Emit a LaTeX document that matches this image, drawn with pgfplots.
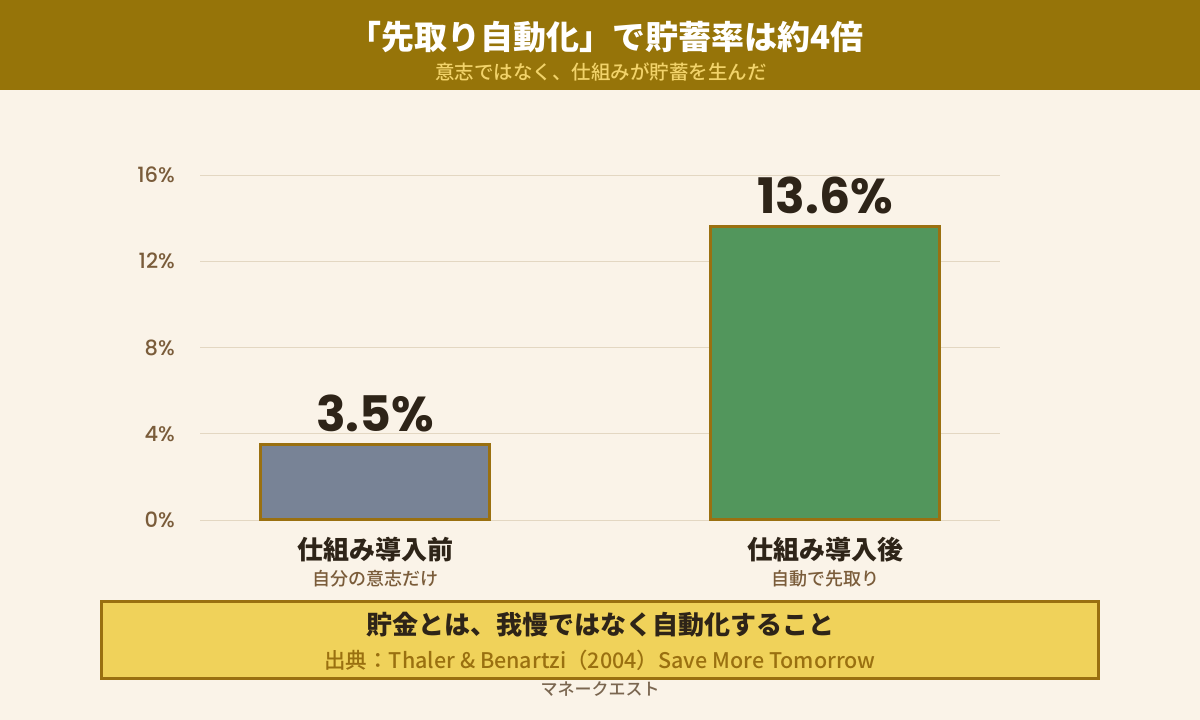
\documentclass[border=0pt]{standalone}
\usepackage{pgfplots}
\pgfplotsset{compat=1.18}
\usepackage{fontspec}
\setmainfont{Noto Sans CJK JP}
\newfontfamily\jp{Noto Sans CJK JP}
\newfontfamily\jpblk{Noto Sans CJK JP Black}
\newfontfamily\jpm{Noto Sans CJK JP Medium}
\newfontfamily\pop{Poppins}
\newfontfamily\popm{Poppins Medium}
\definecolor{bg}{HTML}{FAF3E8}
\definecolor{hdr}{HTML}{967409}
\definecolor{subhdr}{HTML}{F2D36A}
\definecolor{gold}{HTML}{9A7010}
\definecolor{grayblue}{HTML}{788396}
\definecolor{green}{HTML}{52965C}
\definecolor{dark}{HTML}{2E2418}
\definecolor{brown}{HTML}{7A5C3A}
\definecolor{gridc}{HTML}{E3D7C2}
\definecolor{boxfill}{HTML}{F0D25A}
\definecolor{mq}{HTML}{7A6650}
\begin{document}
\begin{tikzpicture}[x=1pt,y=1pt]
\fill[bg] (0,0) rectangle (1200,720);
\fill[hdr] (0,630) rectangle (1200,720);
\node[white,font=\jpblk\fontsize{33}{37}\selectfont] at (606,683) {「先取り自動化」で貯蓄率は約4倍};
\node[subhdr,font=\jpm\fontsize{19.5}{22}\selectfont] at (601,648) {意志ではなく、仕組みが貯蓄を生んだ};
\begin{axis}[
  at={(200pt,200pt)}, anchor=south west,
  scale only axis, width=800pt, height=345pt,
  xmin=-0.3889, xmax=1.3889, ymin=0, ymax=16,
  ytick={0,4,8,12,16},
  yticklabels={0\%,4\%,8\%,12\%,16\%},
  yticklabel style={font=\popm\fontsize{21}{24}\selectfont, text=brown, inner sep=0pt, xshift=-25pt, anchor=east},
  xtick=\empty,
  ymajorgrids, grid style={gridc, line width=0.8pt},
  axis line style={draw=none},
  major tick style={draw=none},
  clip=false,
  ybar, bar width=229pt,
  nodes near coords={\pgfmathprintnumber[fixed,precision=1,fixed zerofill,assume math mode=true]{\pgfplotspointmeta}\%},
  every node near coord/.append style={font=\pop\bfseries\fontsize{49}{54}\selectfont, text=dark, anchor=south, yshift=8pt},
]
\addplot[bar shift=0pt, fill=grayblue, draw=gold, line width=3pt] coordinates {(0,3.5)};
\addplot[bar shift=0pt, fill=green, draw=gold, line width=3pt] coordinates {(1,13.6)};
\node[dark,font=\jp\bfseries\fontsize{26}{30}\selectfont] at (axis cs:0,0) [yshift=-29.5pt] {仕組み導入前};
\node[brown,font=\jpm\fontsize{18}{21}\selectfont] at (axis cs:0,0) [yshift=-59pt] {自分の意志だけ};
\node[dark,font=\jp\bfseries\fontsize{26}{30}\selectfont] at (axis cs:1,0) [yshift=-29.5pt] {仕組み導入後};
\node[brown,font=\jpm\fontsize{18}{21}\selectfont] at (axis cs:1,0) [yshift=-59pt] {自動で先取り};
\end{axis}
\draw[gold, line width=3pt, fill=boxfill] (101.5,41.5) rectangle (1098.5,118.5);
\node[dark,font=\jp\bfseries\fontsize{26}{30}\selectfont] at (600,95) {貯金とは、我慢ではなく自動化すること};
\node[gold,font=\jpm\fontsize{21.5}{24}\selectfont] at (600,60) {出典：Thaler \& Benartzi（2004）Save More Tomorrow};
\node[mq,font=\jpm\fontsize{17}{20}\selectfont] at (600,31) {マネークエスト};
\end{tikzpicture}
\end{document}
